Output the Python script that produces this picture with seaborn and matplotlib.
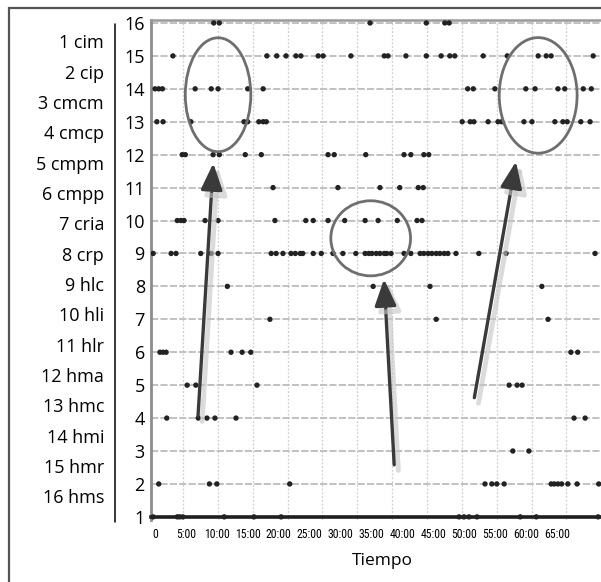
# event plot of coded behaviours over time (16 codes, ~70 min session)
# circles + arrows mark the three clusters discussed in the text

import matplotlib
matplotlib.use("Agg")
import pandas as pd
import matplotlib.pyplot as plt
import matplotlib.patheffects as pe
from matplotlib import font_manager
from matplotlib.patches import Ellipse, Rectangle
from matplotlib.lines import Line2D
from matplotlib.ticker import MultipleLocator
import seaborn as sns

# ------------------------------------------------------------------
# data: event times (minutes) for each row of the chart
# ------------------------------------------------------------------

codes = ["1 cim", "2 cip", "3 cmcm", "4 cmcp", "5 cmpm", "6 cmpp", "7 cria", "8 crp",
         "9 hlc", "10 hli", "11 hlr", "12 hma", "13 hmc", "14 hmi", "15 hmr", "16 hms"]

rows = list(range(1, 17))

row16 = [9.5, 10.4, 34.8, 43.9, 46.9, 47.6]
row15 = [2.9, 18.1, 19.7, 21.2, 22.8, 23.6, 26.4, 27.2, 31.7, 37.1, 37.7, 40.6, 43.9,
         46.3, 47.7, 48.5, 53.1, 57.0, 62.0, 63.3, 64.1, 70.9]
row14 = [0.0, 0.6, 1.2, 6.5, 9.1, 10.2, 15.0, 17.5, 50.6, 51.5, 55.0, 60.0, 61.5,
         65.2, 66.3, 69.3, 70.6]
row13 = [0.3, 1.3, 5.8, 14.4, 15.0, 16.8, 17.5, 18.0, 49.7, 51.0, 51.6, 53.9, 55.5,
         56.1, 59.7, 61.0, 64.7, 66.0, 66.7, 68.9, 70.4]
row12 = [4.4, 4.9, 9.4, 10.4, 14.6, 17.2, 28.0, 29.0, 34.1, 40.3, 41.4, 43.5, 44.3]
row11 = [19.1, 29.6, 36.4, 39.6, 42.6, 43.4]
row10 = [3.6, 4.2, 4.7, 8.1, 10.2, 19.4, 24.4, 25.6, 28.0, 30.7, 34.0, 36.1, 39.2,
         42.4, 43.2]
row9 = [-0.3, 2.6, 3.4, 7.4, 9.1, 10.2, 18.8, 19.6, 20.7, 22.0, 22.7, 23.5, 23.9,
        25.6, 26.9, 28.8, 30.4, 32.5, 34.0, 34.6, 35.1, 35.8, 36.4, 37.1, 37.5, 38.2,
        40.3, 41.4, 42.9, 43.5, 44.2, 44.8, 45.5, 46.1, 46.8, 47.4, 48.7, 52.4, 56.8, 71.2]
row8 = [11.7, 35.3, 44.5, 62.6]
row7 = [18.6, 45.5, 63.6]
row6 = [0.8, 1.3, 1.8, 12.3, 14.1, 15.5, 67.3, 68.4]
row5 = [5.2, 6.6, 16.5, 57.3, 58.6, 59.4]
row4 = [1.9, 7.0, 8.4, 9.7, 13.1, 67.8, 69.6]
row3 = [57.9, 60.5]
row2 = [0.6, 8.8, 10.0, 21.8, 53.4, 54.5, 55.3, 56.5, 64.1, 64.6, 65.2, 65.8, 66.8,
        68.3, 71.8]
row1 = [-0.3, 3.6, 4.0, 4.5, 11.2, 16.0, 20.4, 49.2, 50.0, 50.8, 52.1, 59.1, 61.7, 71.7]

all_rows = [row1, row2, row3, row4, row5, row6, row7, row8,
            row9, row10, row11, row12, row13, row14, row15, row16]

x_ticks = list(range(0, 70, 5))
x_labels = ["0"] + [f"{m}:00" for m in x_ticks[1:]]

# highlighted clusters (center x, center y, width, height) and arrows (tail, tip)
ellipses = [(10.2, 13.82, 10.6, 3.46), (34.9, 9.46, 12.9, 2.28), (62.0, 13.8, 12.6, 3.51)]
arrows = [((6.96, 4.07), (9.43, 11.74)),
          ((38.7, 2.58), (37.06, 8.22)),
          ((51.67, 4.62), (58.41, 11.79))]

df = pd.DataFrame({
    "tiempo": [t for times in all_rows for t in times],
    "fila": [r for r, times in zip(rows, all_rows) for _ in times],
})

# ------------------------------------------------------------------
# plot
# ------------------------------------------------------------------

sns.set_style("white")
plt.rcParams["font.family"] = ["Open Sans", "DejaVu Sans"]
plt.rcParams["text.color"] = "black"
plt.rcParams["xtick.color"] = "black"
plt.rcParams["ytick.color"] = "black"
plt.rcParams["axes.labelcolor"] = "black"

# the time labels in the original are in a narrow face -- use one if there is one
installed = {f.name for f in font_manager.fontManager.ttflist}
narrow = None
for cand in ["Liberation Sans Narrow", "Roboto Condensed", "Open Sans Condensed",
             "DejaVu Sans Condensed", "Noto Sans Display"]:
    if cand in installed:
        narrow = cand
        break
condensed_faces = [f for f in font_manager.fontManager.ttflist
                   if f.stretch in ("condensed", "semi-condensed", 500 - 125) and "Bold" not in f.fname]
if narrow is not None:
    tick_font = dict(family=[narrow, "DejaVu Sans"], fontsize=8.5)
elif condensed_faces:
    tick_font = dict(family=[condensed_faces[0].name], fontstretch="condensed", fontsize=8)
else:
    tick_font = dict(family=["Liberation Sans", "DejaVu Sans"], fontsize=7.5)

fig = plt.figure(figsize=(6.01, 5.82), dpi=100)
ax = fig.add_axes([151 / 601, 1 - 519.5 / 582, 450.2 / 601, 499.5 / 582])

sns.scatterplot(data=df, x="tiempo", y="fila", ax=ax, color="#222222", s=15,
                marker="o", edgecolor="none", zorder=4, legend=False)

ax.set_xlim(-0.65, 72.2)
ax.set_ylim(0.92, 16.09)

ax.spines["bottom"].set_position(("data", 1))
ax.spines["bottom"].set_color("#1e1e1e")
ax.spines["bottom"].set_linewidth(2.6)
ax.spines["bottom"].set_zorder(3)
ax.spines["left"].set_color("#8c8c8c")
ax.spines["left"].set_linewidth(2.0)
ax.spines["top"].set_color("#9a9a9a")
ax.spines["top"].set_linewidth(1.8)
ax.spines["right"].set_visible(False)

ax.set_yticks(rows)
ax.set_yticklabels([str(r) for r in rows], fontsize=13)
ax.set_xticks(x_ticks)
ax.set_xticklabels(x_labels, **tick_font)
ax.tick_params(axis="y", length=0, pad=4.5)
ax.tick_params(axis="x", which="both", length=0, pad=8)

# grid: rows dashed, time grid lighter dotted (not lined up with labels in the original)
ax.set_axisbelow(True)
ax.yaxis.grid(True, color="#bcbcbc", lw=1.3, ls=(0, (4, 1.2)))
ax.xaxis.set_minor_locator(MultipleLocator(5.64, offset=4.53))
ax.xaxis.grid(False, which="major")
ax.xaxis.grid(True, which="minor", color="#cfcfcf", lw=0.9, ls=(0, (1.5, 1.5)))

ax.set_xlabel("Tiempo", fontsize=12.5, x=0.515, labelpad=9)
ax.set_ylabel("")

for cx, cy, w, h in ellipses:
    ax.add_patch(Ellipse((cx, cy), w, h, fill=False, ec="#6e6e6e", lw=2.0, zorder=5))

for tail, tip in arrows:
    ax.annotate("", xy=tip, xytext=tail,
                arrowprops=dict(arrowstyle="-|>,head_length=1.35,head_width=0.55",
                                mutation_scale=12, lw=2.4, color="#3a3a3a",
                                shrinkA=0, shrinkB=0,
                                path_effects=[pe.SimpleLineShadow(offset=(3, -4), shadow_color="#c4c4c4",
                                                                  alpha=0.6, linewidth=3.5),
                                              pe.Normal()]),
                zorder=6)

# code legend on the left
for i, lab in enumerate(codes):
    fig.text(104 / 601, 1 - (48.3 + i * 30.33) / 582, lab, ha="right", va="baseline", fontsize=13)

fig.add_artist(Line2D([115 / 601, 115 / 601], [1 - 24 / 582, 1 - 522 / 582],
                      color="black", lw=1.1, transform=fig.transFigure))

# outer frame (right/bottom edges fall outside the crop)
fig.add_artist(Rectangle((9 / 601, -0.05), 1.2, 1 - 8 / 582 + 0.05, transform=fig.transFigure,
                         fill=False, ec="#555555", lw=1.6))

fig.savefig("out.png", dpi=100)
plt.close()
